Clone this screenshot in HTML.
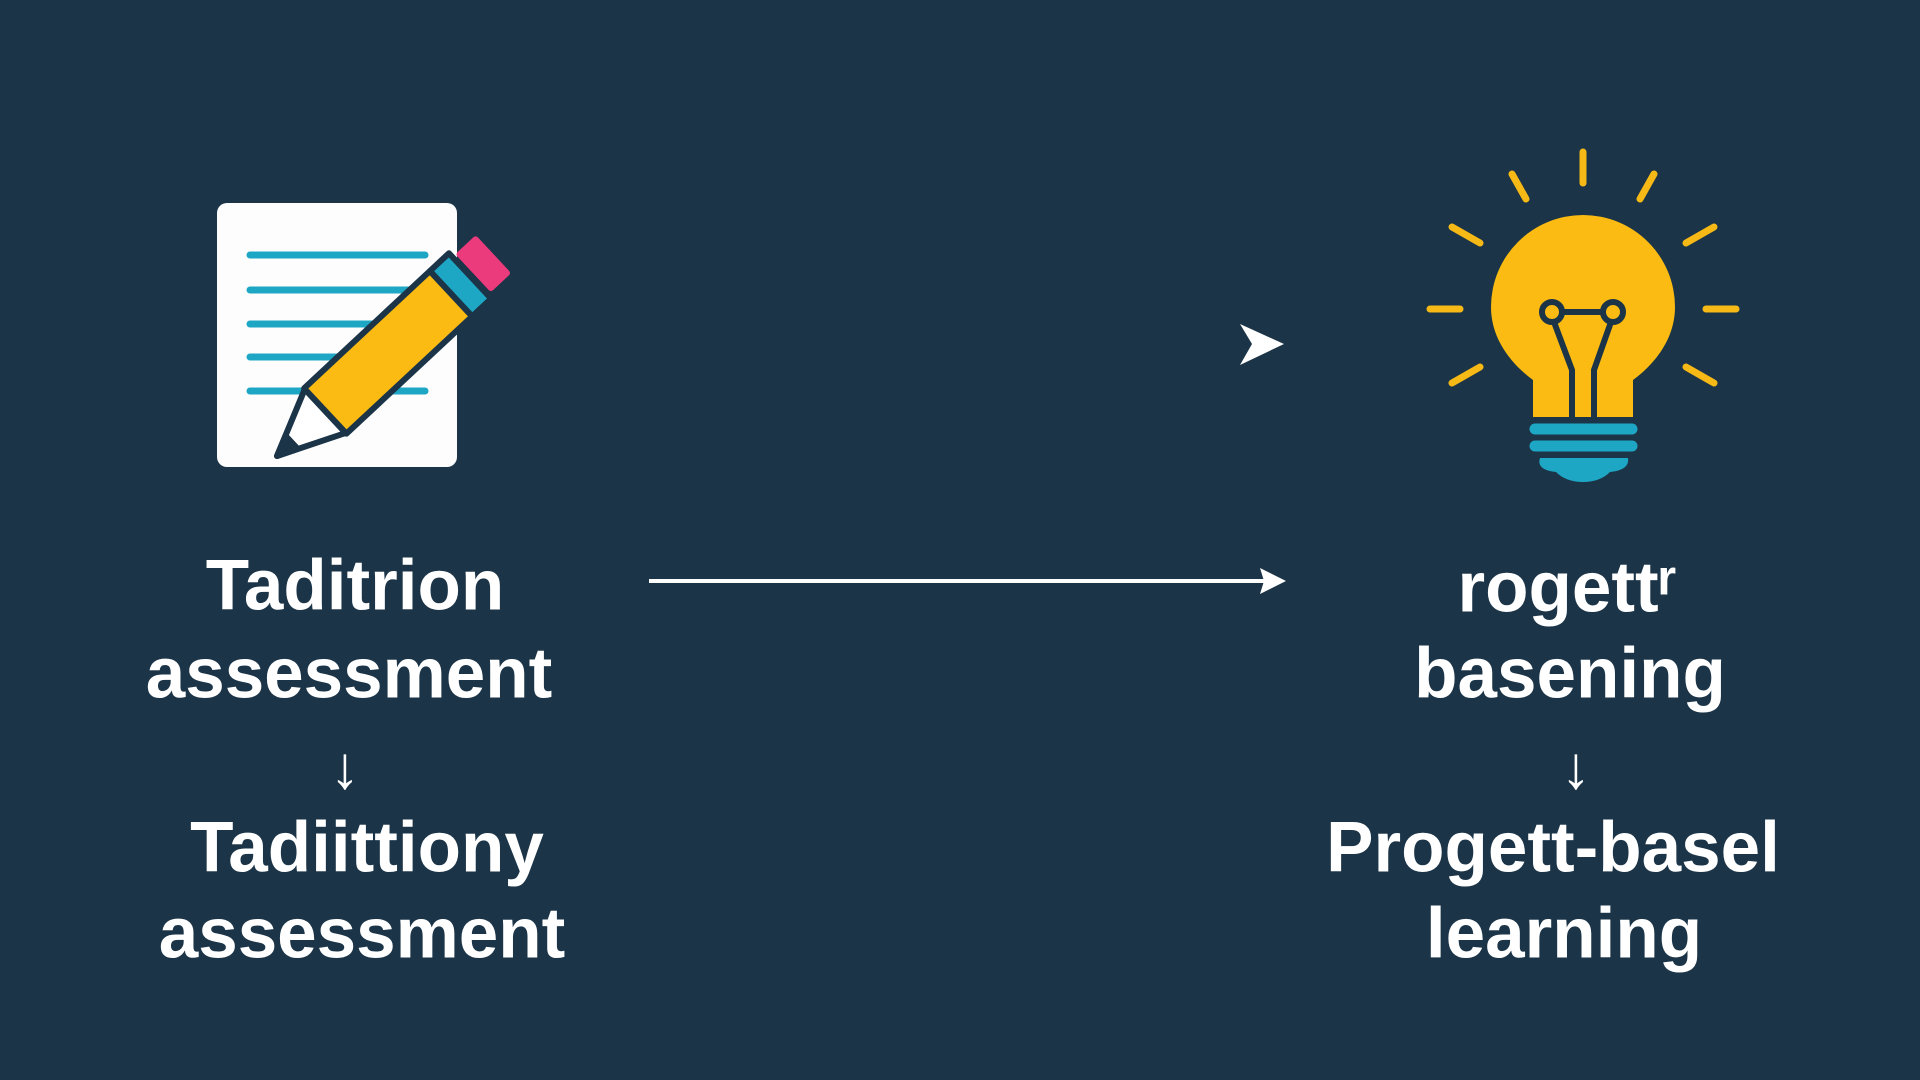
<!DOCTYPE html>
<html><head><meta charset="utf-8"><style>
html,body{margin:0;padding:0;width:1920px;height:1080px;overflow:hidden;background:#1b3447;}
.t{position:absolute;color:#fff;font-family:"Liberation Sans",sans-serif;font-weight:bold;font-size:71px;line-height:1;white-space:nowrap;transform:translate(-50%,-50%);letter-spacing:0px}
.a{font-size:60px;}
</style></head><body>
<svg width="1920" height="1080" style="position:absolute;left:0;top:0">
<rect x="217" y="203" width="240" height="264" rx="10" fill="#fdfdfd"/>
<g stroke="#1ea7c5" stroke-width="7" stroke-linecap="round">
<line x1="250" y1="255" x2="425" y2="255"/><line x1="250" y1="290" x2="425" y2="290"/>
<line x1="250" y1="324" x2="425" y2="324"/><line x1="250" y1="357" x2="425" y2="357"/>
<line x1="250" y1="391" x2="425" y2="391"/></g>
<g transform="translate(277,456) rotate(-43)" stroke="#1b3447" stroke-width="6" stroke-linejoin="round">
<polygon points="0,0 66,-30 66,30" fill="#fff"/>
<polygon points="0,0 20,-9 20,9" fill="#1b3447"/>
<rect x="66" y="-31" width="172" height="62" fill="#fbbb12"/>
<rect x="238" y="-31" width="26" height="62" fill="#1ea7c5"/>
<rect x="268" y="-26" width="28" height="52" rx="3" fill="#ec3b7c" stroke="none"/>
</g>
<g stroke="#f7b916" stroke-width="7" stroke-linecap="round">
<line x1="1583" y1="152" x2="1583" y2="183"/>
<line x1="1512" y1="174" x2="1526" y2="199"/>
<line x1="1654" y1="174" x2="1640" y2="199"/>
<line x1="1452" y1="227" x2="1480" y2="243"/>
<line x1="1714" y1="227" x2="1686" y2="243"/>
<line x1="1430" y1="309" x2="1460" y2="309"/>
<line x1="1706" y1="309" x2="1736" y2="309"/>
<line x1="1452" y1="383" x2="1480" y2="367"/>
<line x1="1714" y1="383" x2="1686" y2="367"/>
</g>
<path d="M1533,417 L1533,380 C1510,363 1491,338 1491,307 A92,92 0 1 1 1675,307 C1675,338 1656,363 1633,380 L1633,417 Z" fill="#fbbb12"/>
<g stroke="#1b3447" stroke-width="6" fill="none">
<circle cx="1552" cy="312" r="10"/><circle cx="1613" cy="312" r="10"/>
<line x1="1562" y1="312" x2="1603" y2="312"/>
<path d="M1554,322 L1572,370 L1572,418"/>
<path d="M1611,322 L1594,370 L1594,418"/>
</g>
<g stroke="#1ea7c5" stroke-width="11" stroke-linecap="round">
<line x1="1535" y1="429" x2="1632" y2="429"/>
<line x1="1535" y1="446" x2="1632" y2="446"/>
</g>
<path d="M1540,458 L1628,458 Q1630,470 1610,472 Q1600,482 1583,482 Q1566,482 1556,472 Q1536,470 1540,458 Z" fill="#1ea7c5"/>
<line x1="649" y1="581" x2="1270" y2="581" stroke="#fff" stroke-width="4"/>
<polygon points="1260,568 1286,581 1260,594 1264,581" fill="#fff"/>
<polygon points="1240,324 1284,344 1240,365 1252,344" fill="#fff"/>
</svg>
<div class="t" style="left:355px;top:586px">Taditrion</div>
<div class="t" style="left:349px;top:674px">assessment</div>
<div class="t a" style="left:345px;top:768px">↓</div>
<div class="t" style="left:367px;top:848px">Tadiittiony</div>
<div class="t" style="left:362px;top:934px">assessment</div>
<div class="t" style="left:1567px;top:588px">rogettʳ</div>
<div class="t" style="left:1570px;top:674px">basening</div>
<div class="t a" style="left:1576px;top:768px">↓</div>
<div class="t" style="left:1553px;top:848px">Progett-basel</div>
<div class="t" style="left:1564px;top:934px">learning</div>
</body></html>
